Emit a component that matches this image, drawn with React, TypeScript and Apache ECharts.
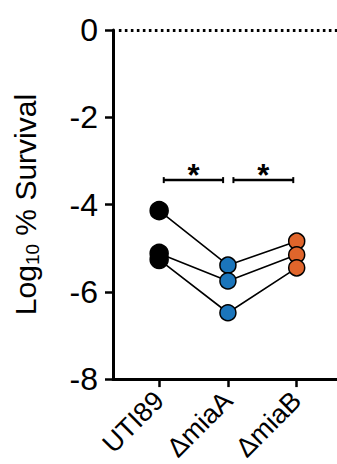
import React, { useEffect, useRef } from "react";
import * as echarts from "echarts";

const categories = ["UTI89", "ΔmiaA", "ΔmiaB"];
const categoryPositions = [1, 2, 3];
const replicate1 = [-4.14, -5.39, -4.84];
const replicate2 = [-5.12, -5.75, -5.15];
const replicate3 = [-5.26, -6.48, -5.45];
const yTicks = [0, -2, -4, -6, -8];
// significance brackets: [xStart, xEnd, y, label]
const brackets: [number, number, number, string][] = [
  [1.067, 1.93, -3.44, "*"],
  [2.08, 2.95, -3.44, "*"],
];

const pointColors = ["#000000", "#1b75bb", "#e0652b"];
const pointSizes = [18, 16, 16];

export default function App() {
  const ref = useRef<HTMLDivElement>(null);
  useEffect(() => {
    if (!ref.current) return;
    const chart = echarts.init(ref.current, undefined, { renderer: "svg" });
    const font = "'Liberation Sans', Arial, Helvetica, sans-serif";
    const makeSeries = (vals: number[], idx: number) => ({
      type: "line",
      name: "rep" + idx,
      data: vals.map((v, i) => ({
        value: [categoryPositions[i], v],
        symbolSize: pointSizes[i],
        itemStyle: { color: pointColors[i], borderColor: "#000", borderWidth: 1.5 },
      })),
      symbol: "circle",
      showAllSymbol: true,
      lineStyle: { color: "#000", width: 1.6 },
      z: 3,
      silent: true,
      ...(idx === 0
        ? {
            markLine: {
              silent: true,
              symbol: "none",
              label: { show: false },
              lineStyle: { color: "#000", width: 2.8, type: [2.6, 3.4] },
              data: [[{ coord: [0.414, 0] }, { coord: [3.586, 0] }]],
            },
          }
        : {}),
    });
    chart.setOption({
      animation: false,
      grid: { left: 109, top: 30, right: 0, bottom: 84 },
      xAxis: {
        type: "value",
        min: 0.329,
        max: 3.586,
        axisLine: { show: true, onZero: false, lineStyle: { color: "#000", width: 3 } },
        axisTick: { show: true, customValues: categoryPositions, length: 8, lineStyle: { color: "#000", width: 2.5 } },
        axisLabel: {
          customValues: categoryPositions,
          formatter: (v: number) => categories[Math.round(v) - 1] ?? "",
          rotate: 45,
          margin: 17,
          fontSize: 27,
          color: "#000",
          fontFamily: font,
        },
        splitLine: { show: false },
      },
      yAxis: {
        type: "value",
        min: -8,
        max: 0,
        interval: 2,
        name: "Log{sub|10} % Survival",
        nameLocation: "middle",
        nameRotate: 90,
        nameGap: 71,
        nameTextStyle: {
          fontSize: 30,
          color: "#000",
          fontFamily: font,
          lineHeight: 34,
          rich: {
            sub: { fontSize: 19, color: "#000", fontFamily: font, lineHeight: 19, verticalAlign: "bottom" },
          },
        },
        axisLine: { show: true, lineStyle: { color: "#000", width: 3 } },
        axisTick: { show: true, length: 8, lineStyle: { color: "#000", width: 2.5 } },
        axisLabel: {
          margin: 15,
          fontSize: 32,
          color: "#000",
          fontFamily: font,
          formatter: (v: number) => (yTicks.includes(v) ? String(v) : ""),
        },
        splitLine: { show: false },
      },
      series: [
        makeSeries(replicate1, 0),
        makeSeries(replicate2, 1),
        makeSeries(replicate3, 2),
        {
          type: "custom",
          silent: true,
          data: brackets.map((b) => b),
          renderItem: (params: any, api: any) => {
            const x1 = api.value(0);
            const x2 = api.value(1);
            const y = api.value(2);
            const p1 = api.coord([x1, y]);
            const p2 = api.coord([x2, y]);
            const cap = 3;
            const label = brackets[params.dataIndex][3];
            return {
              type: "group",
              children: [
                { type: "line", shape: { x1: p1[0], y1: p1[1], x2: p2[0], y2: p2[1] }, style: { stroke: "#000", lineWidth: 2.5 } },
                { type: "line", shape: { x1: p1[0], y1: p1[1] - cap, x2: p1[0], y2: p1[1] + cap }, style: { stroke: "#000", lineWidth: 2 } },
                { type: "line", shape: { x1: p2[0], y1: p2[1] - cap, x2: p2[0], y2: p2[1] + cap }, style: { stroke: "#000", lineWidth: 2 } },
                {
                  type: "text",
                  x: (p1[0] + p2[0]) / 2,
                  y: p1[1] + 11,
                  style: { text: label, fontSize: 31, fontWeight: "bold", fontFamily: font, fill: "#000", align: "center", verticalAlign: "bottom" },
                },
              ],
            };
          },
        },
      ],
    });
    return () => chart.dispose();
  }, []);
  return <div ref={ref} style={{ width: 337, height: 464, position: "absolute", left: 0, top: 0 }} />;
}
